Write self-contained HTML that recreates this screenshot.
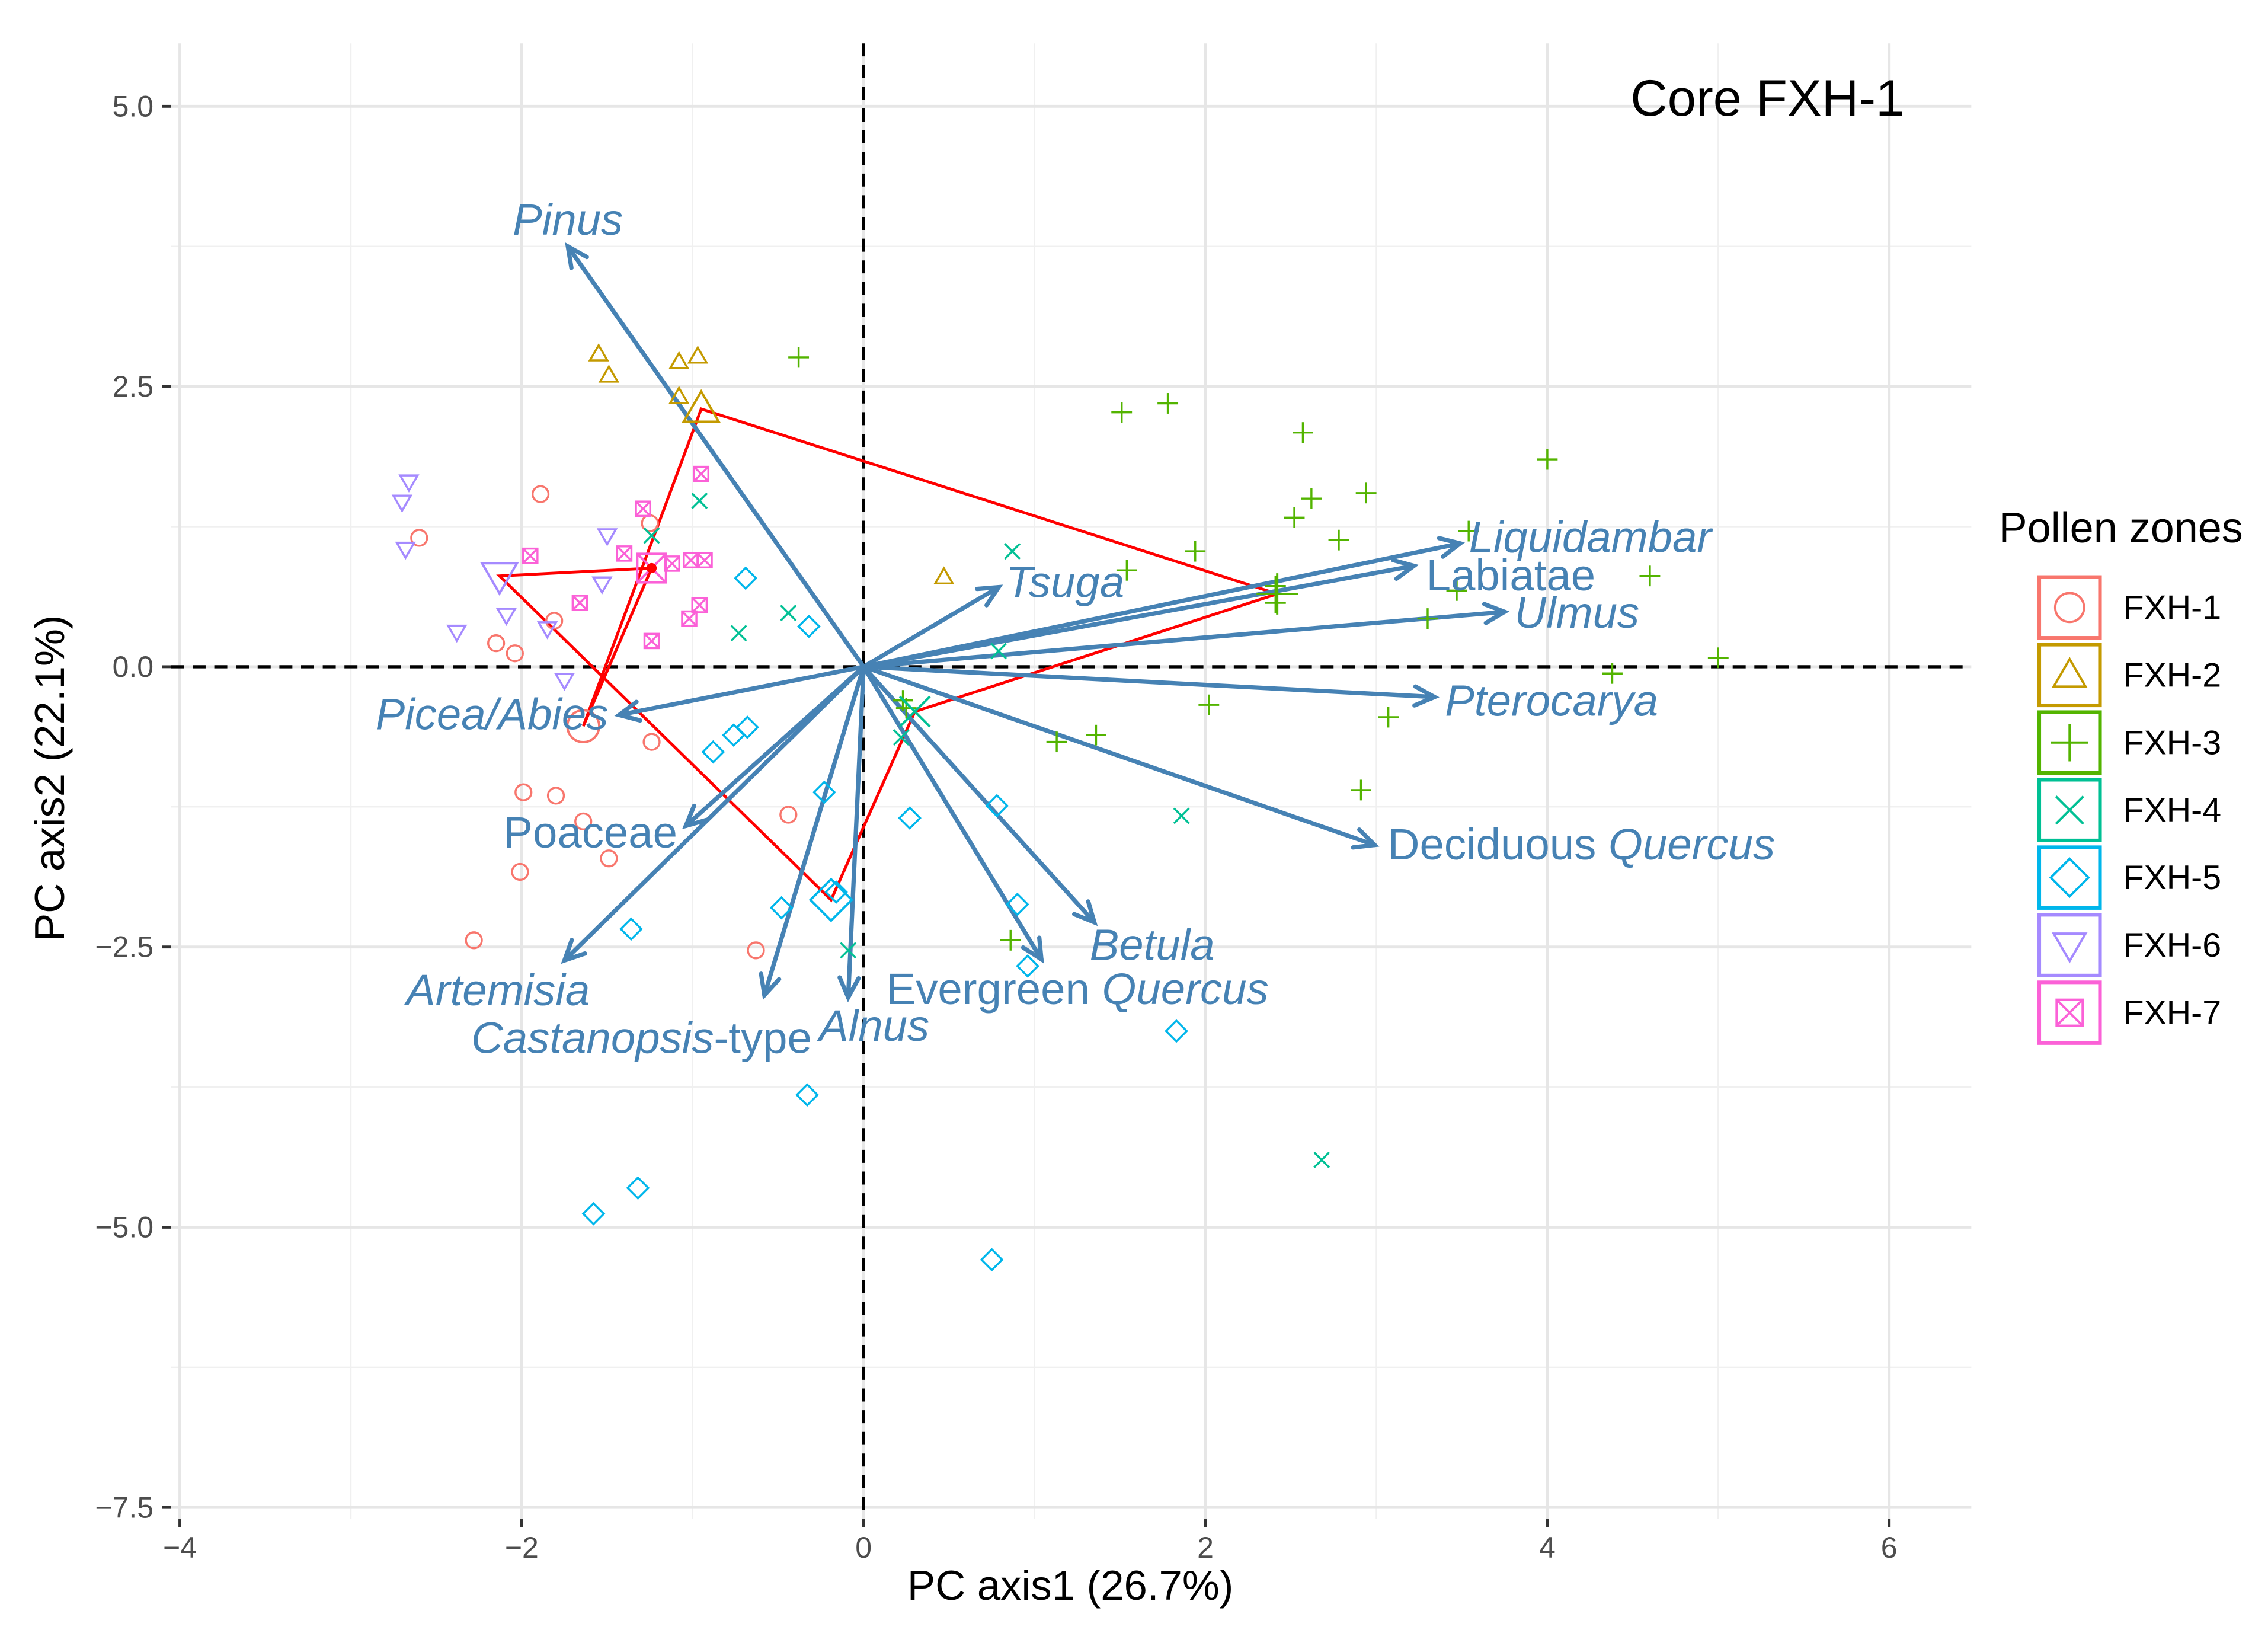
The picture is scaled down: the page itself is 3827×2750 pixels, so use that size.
<!DOCTYPE html>
<html><head><meta charset="utf-8"><style>
html,body{margin:0;padding:0;background:#fff;}
svg{display:block;font-family:"Liberation Sans",sans-serif;}
</style></head><body>
<svg id="chart" width="3827" height="2750" viewBox="0 0 1568 1127" xmlns="http://www.w3.org/2000/svg">
<rect x="0" y="0" width="1568" height="1127" fill="#fff"/>
<g id="grid"></g>
<g id="zero"></g>
<g id="hull"></g>
<g id="arrows"></g>
<g id="points"></g>
<g id="labels"></g>
<g id="axes"></g>
<g id="legend"></g>
<text x="1222" y="80" font-size="35.5" text-anchor="middle">Core FXH-1</text>
<text x="740" y="1106" font-size="29" text-anchor="middle">PC axis1 (26.7%)</text>
<text transform="translate(44,538) rotate(-90)" font-size="29" text-anchor="middle">PC axis2 (22.1%)</text>
</svg>
<script>
const xTicks=[-4,-2,0,2,4,6];
const xTickLabels=["\u22124","\u22122","0","2","4","6"];
const xMinor=[-3,-1,1,3,5];
const yTicks=[5,2.5,0,-2.5,-5,-7.5];
const yTickLabels=["5.0","2.5","0.0","\u22122.5","\u22125.0","\u22127.5"];
const yMinor=[3.75,1.25,-1.25,-3.75,-6.25];
const zones=["FXH-1","FXH-2","FXH-3","FXH-4","FXH-5","FXH-6","FXH-7"];
const zoneColors=["#F8766D","#C49A00","#53B400","#00C094","#00B6EB","#A58AFF","#FB61D7"];
const zoneShapes=["circle","triUp","plus","cross","diamond","triDown","boxX"];
const fxh1X=[-1.89,-2.60,-1.25,-2.15,-2.04,-1.81,-1.99,-1.80,-1.64,-1.49,-2.01,-2.28,-0.63,-0.44,-1.24];
const fxh1Y=[1.54,1.15,1.28,0.21,0.12,0.41,-1.12,-1.15,-1.38,-1.71,-1.83,-2.44,-2.53,-1.32,-0.67];
const fxh2X=[-1.55,-1.49,-1.08,-0.97,-1.08,0.47];
const fxh2Y=[2.79,2.60,2.72,2.77,2.41,0.80];
const fxh3X=[-0.38,1.51,1.78,2.57,2.52,2.62,2.94,2.78,4.00,1.94,1.54,2.41,2.41,3.54,3.47,3.30,4.60,5.00,4.38,3.07,2.02,1.36,1.13,2.91,0.86,0.23,0.25];
const fxh3Y=[2.76,2.27,2.35,2.09,1.33,1.50,1.55,1.13,1.85,1.03,0.86,0.72,0.57,1.21,0.68,0.43,0.81,0.08,-0.06,-0.45,-0.34,-0.61,-0.67,-1.10,-2.44,-0.30,-0.37];
const fxh4X=[0.87,-0.96,-1.24,-0.44,-0.73,0.79,0.22,1.86,-0.09,2.68];
const fxh4Y=[1.03,1.48,1.17,0.48,0.30,0.14,-0.63,-1.33,-2.53,-4.40];
const fxh5X=[-0.69,-0.32,-0.68,-0.76,-0.88,-0.23,0.27,0.78,0.90,0.96,-0.48,-1.36,-0.16,1.83,-0.33,-1.32,-1.58,0.75];
const fxh5Y=[0.79,0.36,-0.54,-0.61,-0.76,-1.12,-1.35,-1.24,-2.12,-2.67,-2.15,-2.34,-2.01,-3.25,-3.82,-4.65,-4.88,-5.29];
const fxh6X=[-2.66,-2.70,-2.68,-1.50,-1.53,-2.09,-2.38,-1.85,-1.75];
const fxh6Y=[1.65,1.47,1.05,1.17,0.74,0.46,0.31,0.34,-0.12];
const fxh7X=[-0.95,-1.29,-1.95,-1.40,-1.12,-1.01,-0.93,-1.66,-0.96,-1.02,-1.24];
const fxh7Y=[1.72,1.41,0.99,1.01,0.92,0.95,0.95,0.57,0.55,0.43,0.23];
const centroidX=[-1.64,-0.95,2.42,0.30,-0.19,-2.13,-1.24];
const centroidY=[-0.53,2.30,0.65,-0.40,-2.08,0.81,0.88];
const taxa=["Pinus","Tsuga","Liquidambar","Labiatae","Ulmus","Pterocarya","Deciduous Quercus","Betula","Evergreen Quercus","Alnus","Castanopsis-type","Artemisia","Poaceae","Picea/Abies"];
const loadX=[-1.73,0.79,3.49,3.22,3.75,3.34,2.99,1.35,1.04,-0.09,-0.58,-1.75,-1.04,-1.43];
const loadY=[3.75,0.71,1.10,0.90,0.49,-0.27,-1.59,-2.28,-2.61,-2.95,-2.93,-2.62,-1.42,-0.43];

const NS="http://www.w3.org/2000/svg";
const X0=597,XS=118.2,Y0=461,YS=77.5;
const L=118,R=1363,T=30,B=1050;
function sx(v){return X0+v*XS;}
function sy(v){return Y0-v*YS;}
function mk(tag,attrs,parent){const e=document.createElementNS(NS,tag);for(const k in attrs)e.setAttribute(k,attrs[k]);if(parent)parent.appendChild(e);return e;}

const grid=document.getElementById('grid');
xMinor.forEach(v=>{const l=mk('line',{x1:sx(v),x2:sx(v),y1:T,y2:B,stroke:'#f0f0f0','stroke-width':1},grid);});
yMinor.forEach(v=>{const l=mk('line',{x1:L,x2:R,y1:sy(v),y2:sy(v),stroke:'#f0f0f0','stroke-width':1},grid);});
xTicks.forEach(v=>{const l=mk('line',{x1:sx(v),x2:sx(v),y1:T,y2:B,stroke:'#e6e6e6','stroke-width':2},grid);});
yTicks.forEach(v=>{const l=mk('line',{x1:L,x2:R,y1:sy(v),y2:sy(v),stroke:'#e6e6e6','stroke-width':2},grid);});

const zero=document.getElementById('zero');
let zl=mk('line',{x1:sx(0),x2:sx(0),y1:T,y2:B,stroke:'#000','stroke-width':2.2,'stroke-dasharray':'9,6'},zero);


zl=mk('line',{x1:L,x2:R,y1:sy(0),y2:sy(0),stroke:'#000','stroke-width':2.2,'stroke-dasharray':'9,6'},zero);



const axes=document.getElementById('axes');
xTicks.forEach((v,i)=>{
  const t=mk('line',{x1:sx(v),x2:sx(v),y1:B,y2:B+6,stroke:'#333','stroke-width':2},axes);
  
  
  const tx=mk('text',{x:sx(v),y:B+27,'font-size':20.5,fill:'#4d4d4d','text-anchor':'middle'},axes);
  tx.textContent=xTickLabels[i];
  
  
});
yTicks.forEach((v,i)=>{
  const t=mk('line',{x1:L-6,x2:L,y1:sy(v),y2:sy(v),stroke:'#333','stroke-width':2},axes);
  
  
  const tx=mk('text',{x:L-12,y:sy(v)+7,'font-size':20.5,fill:'#4d4d4d','text-anchor':'end'},axes);
  tx.textContent=yTickLabels[i];
  
  
});

function shape(kind,cx,cy,r,color,parent,sw){
  const g=mk('g',{fill:'none',stroke:color,'stroke-width':sw||1.4},parent);
  if(kind==='circle')mk('circle',{cx:cx,cy:cy,r:r},g);
  else if(kind==='triUp')mk('polygon',{points:`${cx},${cy-r*1.1} ${cx-r*1.1},${cy+r*0.8} ${cx+r*1.1},${cy+r*0.8}`},g);
  else if(kind==='triDown')mk('polygon',{points:`${cx},${cy+r*1.1} ${cx-r*1.1},${cy-r*0.8} ${cx+r*1.1},${cy-r*0.8}`},g);
  else if(kind==='plus'){mk('line',{x1:cx-r*1.3,x2:cx+r*1.3,y1:cy,y2:cy},g);mk('line',{x1:cx,x2:cx,y1:cy-r*1.3,y2:cy+r*1.3},g);}
  else if(kind==='cross'){const d=r*0.95;mk('line',{x1:cx-d,x2:cx+d,y1:cy-d,y2:cy+d},g);mk('line',{x1:cx-d,x2:cx+d,y1:cy+d,y2:cy-d},g);}
  else if(kind==='diamond')mk('polygon',{points:`${cx},${cy-r*1.3} ${cx+r*1.3},${cy} ${cx},${cy+r*1.3} ${cx-r*1.3},${cy}`},g);
  else if(kind==='boxX'){const d=r*0.9;mk('rect',{x:cx-d,y:cy-d,width:2*d,height:2*d},g);mk('line',{x1:cx-d,x2:cx+d,y1:cy-d,y2:cy+d},g);mk('line',{x1:cx-d,x2:cx+d,y1:cy+d,y2:cy-d},g);}
  return g;
}

const hull=document.getElementById('hull');
let pts=centroidX.map((v,i)=>sx(v)+','+sy(centroidY[i])).join(' ');
const hp=mk('polygon',{points:pts,fill:'none',stroke:'#ff0000','stroke-width':2},hull);



const arrows=document.getElementById('arrows');
loadX.forEach((v,i)=>{
  const x2=sx(v),y2=sy(loadY[i]);
  const g=mk('g',{stroke:'#4682B4','stroke-width':3,fill:'none','stroke-linecap':'round'},arrows);
  
  
  mk('line',{x1:X0,y1:Y0,x2:x2,y2:y2},g);
  const a=Math.atan2(y2-Y0,x2-X0),h=15,sp=0.45;
  mk('polyline',{points:`${x2-h*Math.cos(a-sp)},${y2-h*Math.sin(a-sp)} ${x2},${y2} ${x2-h*Math.cos(a+sp)},${y2-h*Math.sin(a+sp)}`},g);
});

const points=document.getElementById('points');
const allX=[fxh1X,fxh2X,fxh3X,fxh4X,fxh5X,fxh6X,fxh7X];
const allY=[fxh1Y,fxh2Y,fxh3Y,fxh4Y,fxh5Y,fxh6Y,fxh7Y];
allX.forEach((xs,z)=>{
  xs.forEach((v,i)=>{
    const g=shape(zoneShapes[z],sx(v),sy(allY[z][i]),5.5,zoneColors[z],points);
    
    
  });
  const c=shape(zoneShapes[z],sx(centroidX[z]),sy(centroidY[z]),11,zoneColors[z],points,1.6);
  
  
});
const dot=mk('circle',{cx:sx(centroidX[6]),cy:sy(centroidY[6]),r:3.5,fill:'#ff0000'},points);



const labelDX=[0,46,90,67,50,81,143,40,25,18,-85,-46,-66,-88];
const labelDY=[-8,7,6,17,11,13,10,26,31,30,40,31,15,10];
const italicPart=[["","Pinus",""],["","Tsuga",""],["","Liquidambar",""],["Labiatae","",""],["","Ulmus",""],["","Pterocarya",""],["Deciduous ","Quercus",""],["","Betula",""],["Evergreen ","Quercus",""],["","Alnus",""],["","Castanopsis","-type"],["","Artemisia",""],["Poaceae","",""],["","Picea/Abies",""]];
const labels=document.getElementById('labels');
taxa.forEach((n,i)=>{
  const t=mk('text',{x:sx(loadX[i])+labelDX[i],y:sy(loadY[i])+labelDY[i],'font-size':30.5,fill:'#4682B4','text-anchor':'middle'},labels);
  
  
  const p=italicPart[i];
  if(p[0]){const s=mk('tspan',{},t);s.textContent=p[0];}
  if(p[1]){const s=mk('tspan',{'font-style':'italic'},t);s.textContent=p[1];}
  if(p[2]){const s=mk('tspan',{},t);s.textContent=p[2];}
});

const legend=document.getElementById('legend');
const lt=mk('text',{x:1382,y:375,'font-size':29.5},legend);
lt.textContent='Pollen zones';


zones.forEach((z,i)=>{
  const cy=420+i*46.7;
  const g=mk('g',{},legend);
  
  
  mk('rect',{x:1410,y:cy-21,width:42,height:42,fill:'#fff',stroke:zoneColors[i],'stroke-width':2.5},g);
  shape(zoneShapes[i],1431,cy,10,zoneColors[i],g,1.6);
  const t=mk('text',{x:1468,y:cy+8,'font-size':23.5},g);
  t.textContent=z;
});
</script>
</body></html>
